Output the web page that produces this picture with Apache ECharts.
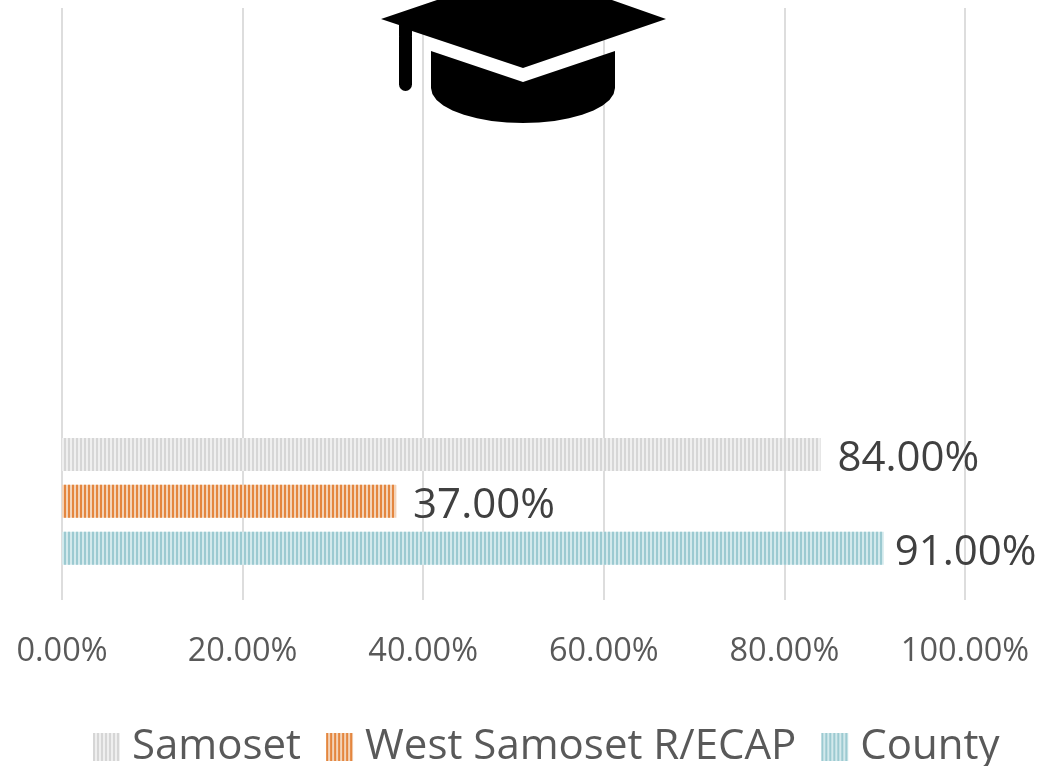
<!DOCTYPE html>
<html><head><meta charset="utf-8">
<style>html,body{margin:0;padding:0;background:#fff}#c{width:1058px;height:766px}</style>
<script src="https://cdn.jsdelivr.net/npm/echarts@6/dist/echarts.min.js"></script>
</head><body><div id="c"></div>
<script>
const categories = ['', '', 'Row 3'];
const samoset = [null, null, 84];
const westSamoset = [null, null, 37];
const county = [null, null, 91];
const seriesNames = ['Samoset', 'West Samoset R/ECAP', 'County'];
const FONT = 'Open Sans';
const chart = echarts.init(document.getElementById('c'), null, {renderer: 'canvas'});
function s(name, data, base, stripe, dist) {
  return {
    name, type: 'bar', data, barWidth: 33, barGap: '42%',
    itemStyle: {color: base, decal: {symbol: 'rect', symbolSize: 1, dashArrayX: [2, 2], dashArrayY: [40, 0], rotation: 0, color: stripe}},
    label: {show: true, position: 'right', distance: dist, offset: [0, 5], color: '#404040', fontFamily: FONT, fontSize: 42,
      formatter: p => p.value.toFixed(2) + '%'}
  };
}
const capBase = [[431, 51], [523, 82], [615, 51], [615, 88]];
for (let a = 10; a < 180; a += 10) {
  const r = a * Math.PI / 180;
  capBase.push([523 + 92 * Math.cos(r), 88 + 35 * Math.sin(r)]);
}
capBase.push([431, 88]);
chart.setOption({
  animation: false,
  grid: {left: 62, top: 8, width: 903, height: 592},
  xAxis: {type: 'value', min: 0, max: 100, interval: 20,
    axisLine: {show: false}, axisTick: {show: false},
    splitLine: {show: true, lineStyle: {color: '#dddddd', width: 2}},
    axisLabel: {color: '#595959', fontFamily: FONT, fontSize: 32.5, margin: 35, formatter: v => v.toFixed(2) + '%'}},
  yAxis: {type: 'category', inverse: true, data: categories,
    axisLine: {show: false}, axisTick: {show: false}, axisLabel: {show: false}},
  legend: {left: 88, top: 721, itemWidth: 27, itemHeight: 28, itemGap: 25, icon: 'rect', data: seriesNames,
    textStyle: {color: '#595959', fontFamily: FONT, fontSize: 42, padding: [0, 0, 0, 7]}},
  series: [
    s(seriesNames[0], samoset, '#efefef', '#d6d6d6', 17),
    s(seriesNames[1], westSamoset, '#f3d3b8', '#e4863f', 17),
    s(seriesNames[2], county, '#d3e9ec', '#9ccad1', 11)
  ],
  graphic: [
    {type: 'polygon', z: 10, shape: {points: [[381, 19], [437, 0], [612, 0], [666, 19], [523, 68], [412, 31], [412, 36], [399, 36], [399, 25]]}, style: {fill: '#000'}},
    {type: 'rect', z: 10, shape: {x: 399, y: 30, width: 13, height: 61, r: 6.5}, style: {fill: '#000'}},
    {type: 'polygon', z: 10, shape: {points: capBase}, style: {fill: '#000'}}
  ]
});
</script></body></html>
